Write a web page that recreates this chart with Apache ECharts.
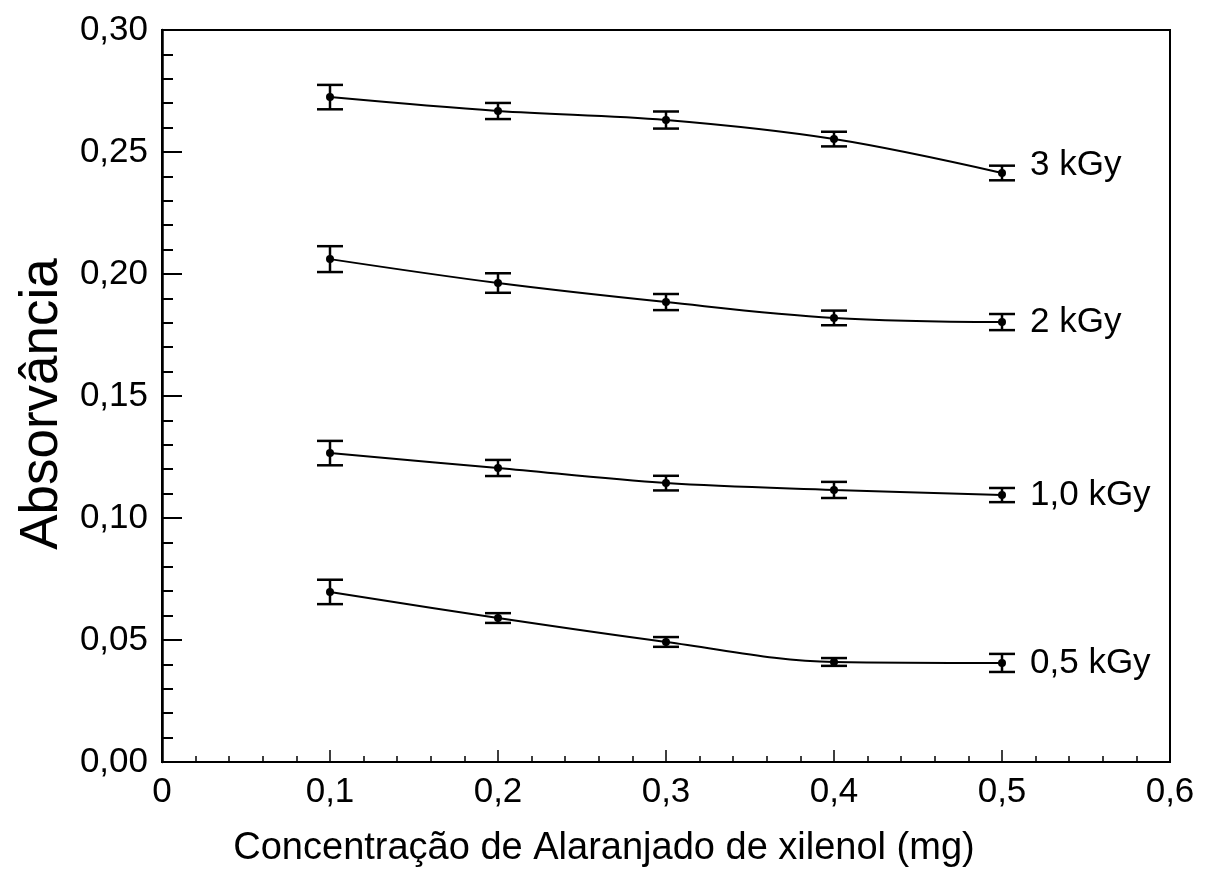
<!DOCTYPE html>
<html>
<head>
<meta charset="utf-8">
<script src="https://cdn.jsdelivr.net/npm/echarts@6/dist/echarts.min.js"></script>
<style>
  html, body { margin: 0; padding: 0; background: #fff; }
  #chart { width: 1205px; height: 892px; }
</style>
</head>
<body>
<div id="chart"></div>
<script>
// concentração (mg)
const conc = [0.1, 0.2, 0.3, 0.4, 0.5];
const doses = ['3 kGy', '2 kGy', '1,0 kGy', '0,5 kGy'];

// absorbância e erro para cada dose
const abs3 = [0.2725, 0.2668, 0.2631, 0.2553, 0.2414];
const err3 = [0.0050, 0.0033, 0.0035, 0.0030, 0.0030];
const abs2 = [0.2061, 0.1963, 0.1885, 0.1820, 0.1803];
const err2 = [0.0053, 0.0040, 0.0033, 0.0030, 0.0033];
const abs1 = [0.1266, 0.1205, 0.1143, 0.1115, 0.1094];
const err1 = [0.0050, 0.0033, 0.0030, 0.0033, 0.0029];
const abs05 = [0.0697, 0.0590, 0.0492, 0.0410, 0.0406];
const err05 = [0.0050, 0.0020, 0.0020, 0.0016, 0.0037];

const xTicks = [0, 0.1, 0.2, 0.3, 0.4, 0.5, 0.6];
const yTicks = [0, 0.05, 0.10, 0.15, 0.20, 0.25, 0.30];

(function () {
    let chart = echarts.init(document.querySelector('#chart'));
    const font = '"Liberation Sans", Arial, sans-serif';
    const allAbs = [abs3, abs2, abs1, abs05];
    const allErr = [err3, err2, err1, err05];

    let series = [];
    allAbs.forEach(function (vals, i) {
        series.push({
            name: doses[i],
            type: 'line',
            smooth: 0.35,
            data: conc.map((c, k) => [c, vals[k]]),
            symbol: 'circle',
            symbolSize: 8,
            itemStyle: { color: '#000' },
            lineStyle: { color: '#000', width: 2 },
            endLabel: {
                show: true,
                formatter: doses[i],
                distance: 28,
                offset: i === 0 ? [0, -8] : [0, 0],
                color: '#000',
                fontSize: 35,
                fontFamily: font
            },
            z: 3
        });
        // barras de erro
        series.push({
            type: 'custom',
            data: conc.map((c, k) => [c, vals[k] - allErr[i][k], vals[k] + allErr[i][k]]),
            renderItem: function (params, api) {
                let top = api.coord([api.value(0), api.value(2)]);
                let bot = api.coord([api.value(0), api.value(1)]);
                let hw = 13;
                let st = { stroke: '#000', lineWidth: 2.5 };
                return {
                    type: 'group',
                    children: [
                        { type: 'line', shape: { x1: top[0], y1: top[1], x2: bot[0], y2: bot[1] }, style: st },
                        { type: 'line', shape: { x1: top[0] - hw, y1: top[1], x2: top[0] + hw, y2: top[1] }, style: st },
                        { type: 'line', shape: { x1: bot[0] - hw, y1: bot[1], x2: bot[0] + hw, y2: bot[1] }, style: st }
                    ]
                };
            },
            z: 4
        });
    });

    let option = {
        backgroundColor: '#fff',
        animation: false,
        grid: {
            left: 162,
            right: 35,
            top: 30,
            bottom: 130,
            show: true,
            borderColor: '#000',
            borderWidth: 2
        },
        xAxis: {
            type: 'value',
            min: xTicks[0],
            max: xTicks[xTicks.length - 1],
            interval: 0.1,
            name: 'Concentração de Alaranjado de xilenol (mg)',
            nameLocation: 'middle',
            nameGap: 68,
            // título um pouco à esquerda do centro, como no original
            nameTextStyle: { color: '#000', fontSize: 38, fontFamily: font, padding: [0, 124, 0, 0] },
            axisLine: { lineStyle: { color: '#000', width: 2 } },
            axisTick: { inside: true, length: 12, lineStyle: { color: '#000', width: 1.5 } },
            minorTick: { show: true, splitNumber: 5, length: 6, lineStyle: { color: '#000', width: 1.5 } },
            splitLine: { show: false },
            axisLabel: {
                color: '#000',
                fontSize: 35,
                fontFamily: font,
                margin: 13,
                formatter: v => (v === 0 ? '0' : v.toFixed(1).replace('.', ','))
            }
        },
        yAxis: {
            type: 'value',
            min: yTicks[0],
            max: yTicks[yTicks.length - 1],
            interval: 0.05,
            name: 'Absorvância',
            nameLocation: 'middle',
            nameGap: 88,
            nameTextStyle: { color: '#000', fontSize: 53, fontFamily: font, padding: [0, 16, 0, 0] },
            axisLine: { lineStyle: { color: '#000', width: 2.5 } },
            axisTick: { inside: true, length: 20, lineStyle: { color: '#000', width: 2 } },
            minorTick: { show: true, splitNumber: 5, length: 11, lineStyle: { color: '#000', width: 2 } },
            splitLine: { show: false },
            axisLabel: {
                color: '#000',
                fontSize: 35,
                fontFamily: font,
                margin: 14,
                formatter: v => v.toFixed(2).replace('.', ',')
            }
        },
        series: series
    };

    chart.setOption(option);
    window.addEventListener('resize', () => chart.resize());
})();
</script>
</body>
</html>
